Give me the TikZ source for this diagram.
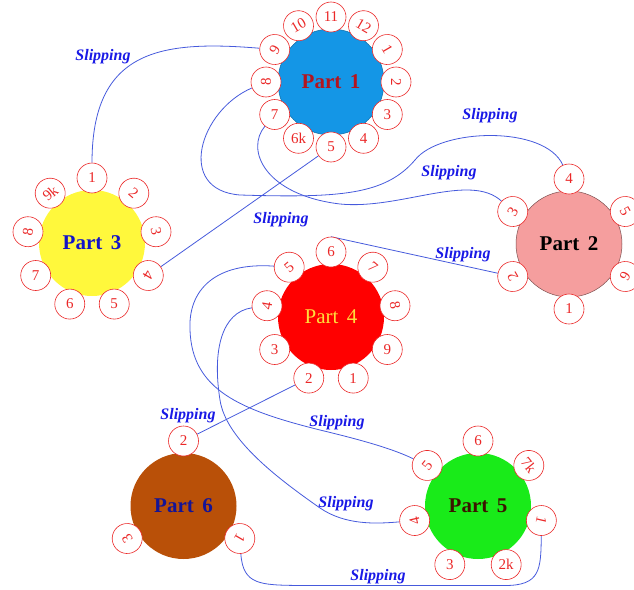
\documentclass[tikz,border=0pt]{standalone}
\usepackage{fontspec}
\setmainfont{Liberation Serif}
\usetikzlibrary{calc,backgrounds}
\definecolor{cP1}{RGB}{20,150,230}
\definecolor{cP2}{RGB}{245,158,158}
\definecolor{cP3}{RGB}{255,248,60}
\definecolor{cP4}{RGB}{255,0,0}
\definecolor{cP5}{RGB}{25,235,25}
\definecolor{cP6}{RGB}{185,80,8}
\definecolor{tP1}{RGB}{180,20,30}
\definecolor{tP3}{RGB}{20,20,200}
\definecolor{tP4}{RGB}{255,222,60}
\definecolor{tP5}{RGB}{60,20,0}
\definecolor{tP6}{RGB}{20,20,150}
\definecolor{pinred}{RGB}{235,40,40}
\definecolor{wire}{RGB}{70,90,220}
\definecolor{sliptext}{RGB}{25,25,230}
\tikzset{
  bigpart/.style={circle, minimum size=106pt, inner sep=0pt, font=\bfseries\fontsize{21}{21}\selectfont},
  pincirc/.style={circle, draw=pinred, fill=white, line width=0.6pt, minimum size=30pt, inner sep=0pt, text=pinred, font=\fontsize{15}{15}\selectfont},
  conn/.style={draw=wire, line width=0.8pt},
  sliplabel/.style={text=sliptext, font=\bfseries\itshape\fontsize{16}{16}\selectfont, inner sep=0pt}
}
\newcommand{\partring}[2]{%
  \foreach \lab/\ang/\rot in {#2} {
    \node[pincirc, rotate=\rot] (#1-\lab) at ($(#1)+(\ang:65pt)$) {\lab};
  }%
}
\begin{document}
\begin{tikzpicture}[x=1pt,y=-1pt]
\clip (0,0) rectangle (634,589);
% big parts
\node[bigpart, fill=cP1, draw=cP1!70!black, line width=0.5pt, text=tP1] (p1) at (331,82) {Part\hspace{0.4em}1};
\node[bigpart, fill=cP2, draw=cP2!50!black, line width=0.5pt, text=black] (p2) at (569,244) {Part\hspace{0.4em}2};
\node[bigpart, fill=cP3, text=tP3] (p3) at (92,243) {Part\hspace{0.4em}3};
\node[bigpart, fill=cP4, text=tP4, font=\fontsize{21}{21}\selectfont] (p4) at (331,317) {Part\hspace{0.4em}4};
\node[bigpart, fill=cP5, text=tP5] (p5) at (478,506) {Part\hspace{0.4em}5};
\node[bigpart, fill=cP6, text=tP6] (p6) at (183.5,506) {Part\hspace{0.4em}6};
% pin rings
\partring{p1}{11/90/0, 12/60/-30, 1/30/-60, 2/0/-90, 3/-30/0, 4/-60/0, 5/-90/0, 6k/-120/0, 7/-150/0, 8/180/90, 9/150/60, 10/120/30}
\partring{p2}{4/90/0, 5/30/-60, 6/-30/-120, 1/-90/0, 2/-150/120, 3/150/60}
\partring{p3}{1/90/0, 2/50/-40, 3/10/-80, 4/-30/-120, 5/-70/0, 6/-110/0, 7/-150/0, 8/170/80, 9k/130/40}
\partring{p4}{6/90/0, 7/50/-40, 8/10/-80, 9/-30/0, 1/-70/0, 2/-110/0, 3/-150/0, 4/170/80, 5/130/40}
\partring{p5}{6/90/0, 7k/38.6/-51.4, 1/-12.9/-102.9, 2k/-64.3/0, 3/-115.7/0, 4/-167.1/102.9, 5/141.4/51.4}
\partring{p6}{2/90/0, 1/-30/-120, 3/-150/120}
% connectors
\begin{scope}[on background layer]
\draw[conn] (p3-1) .. controls (92,50) and (160,40) .. (p1-9);
\draw[conn] (p1-8) .. controls (200,110) and (175,190) .. (240,195)
   .. controls (340,198) and (385,195) .. (415,160)
   .. controls (440,128) and (545,125) .. (p2-4);
\draw[conn] (p1-7) .. controls (245,150) and (265,195) .. (340,204)
   .. controls (400,210) and (470,172) .. (p2-3);
\draw[conn] (p1-5) -- (p3-4);
\draw[conn] (p4-6.north) -- (p2-2);
\draw[conn] (p4-5) .. controls (215,262) and (188,290) .. (190,330)
   .. controls (192,390) and (240,410) .. (320,430)
   .. controls (370,442) and (395,450) .. (p5-5);
\draw[conn] (p4-4) .. controls (222,312) and (212,350) .. (220,400)
   .. controls (226,440) and (280,480) .. (320,508)
   .. controls (345,525) and (375,524) .. (p5-4);
\draw[conn] (p4-2) -- (p6-2);
\draw[conn] (p6-1) .. controls (243,585) and (260,585) .. (300,585.5)
   -- (505,585.5) .. controls (540,585.5) and (541,570) .. (p5-1);
\end{scope}
% slipping labels
\node[sliplabel] (s1) at (103,57) {Slipping};
\node[sliplabel] (s2) at (490,116) {Slipping};
\node[sliplabel] (s3) at (449,173) {Slipping};
\node[sliplabel] (s4) at (281,220) {Slipping};
\node[sliplabel] (s5) at (463,255) {Slipping};
\node[sliplabel] (s6) at (188,416) {Slipping};
\node[sliplabel] (s7) at (337,423) {Slipping};
\node[sliplabel] (s8) at (346,504) {Slipping};
\node[sliplabel] (s9) at (378,577) {Slipping};
\end{tikzpicture}
\end{document}
